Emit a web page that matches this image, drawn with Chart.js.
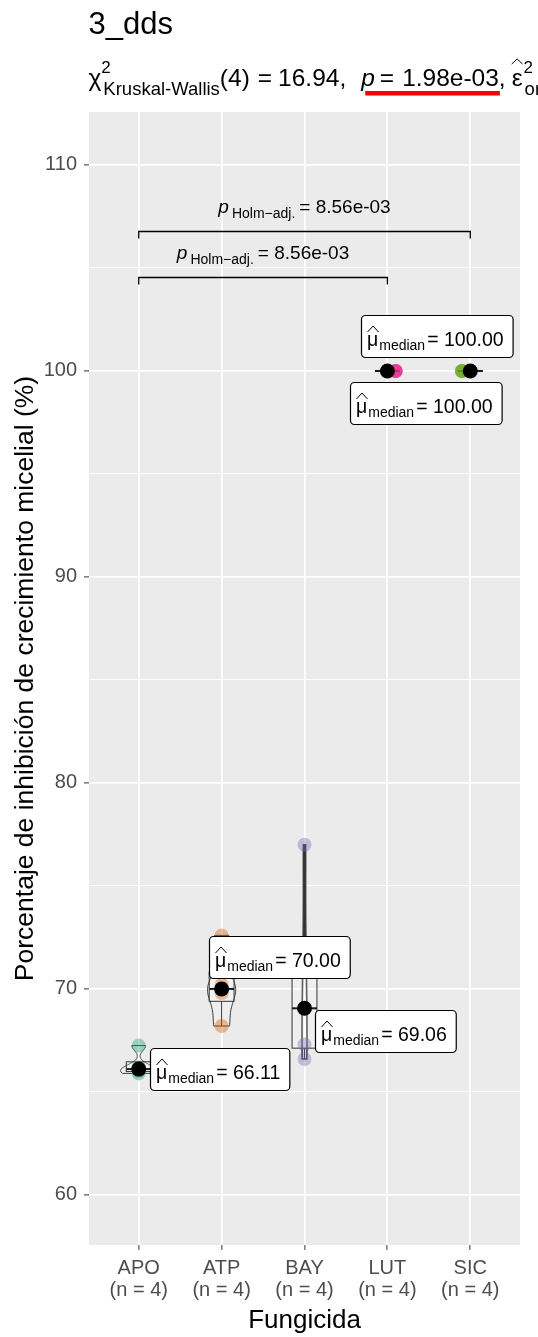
<!DOCTYPE html>
<html>
<head>
<meta charset="utf-8">
<script src="https://cdn.jsdelivr.net/npm/chart.js@4.4.1/dist/chart.umd.min.js"></script>
<style>
  html, body { margin: 0; padding: 0; background: #ffffff; }
  #wrap { width: 538px; height: 1337px; }
</style>
</head>
<body>
<div id="wrap"><canvas id="chart" width="538" height="1337"></canvas></div>
<script>
// ── Data ──────────────────────────────────────────────────

const categories = ['APO', 'ATP', 'BAY', 'LUT', 'SIC'];
const sampleSizes = [4, 4, 4, 4, 4];

const valuesAPO = [65.9, 66.02, 66.2, 67.25];
const valuesATP = [68.2, 69.8, 70.2, 72.6];
const valuesBAY = [66.6, 67.3, 70.82, 77.0];
const valuesLUT = [100, 100, 100, 100];
const valuesSIC = [100, 100, 100, 100];

// horizontal jitter of the points (category units)
const jitterAPO = [0, 0, 0, 0];
const jitterATP = [0, 0, 0, 0];
const jitterBAY = [0, 0, 0, 0];
const jitterLUT = [0.1, 0.1, 0.1, 0.1];
const jitterSIC = [-0.1, -0.1, -0.1, -0.1];

const yTicks = [60, 65, 70, 75, 80, 85, 90, 95, 100, 105, 110];
const yTickLabels = ['60', '', '70', '', '80', '', '90', '', '100', '', '110'];

// pairwise comparisons
const pairFrom = [1, 1];
const pairTo = [5, 4];
const pairY = [106.8, 104.55];
const pairP = ['8.56e-03', '8.56e-03'];

// Kruskal-Wallis subtitle
const kwDf = 4;
const kwStat = '16.94';
const kwP = '1.98e-03';

const groupValues = [valuesAPO, valuesATP, valuesBAY, valuesLUT, valuesSIC];
const groupJitter = [jitterAPO, jitterATP, jitterBAY, jitterLUT, jitterSIC];

// ── Style ─────────────────────────────────────────────────

const FONT = '"Liberation Sans", Arial, sans-serif';
const groupColors = ['27, 158, 119', '217, 95, 2', '117, 112, 179', '231, 41, 138', '102, 166, 30'];
const violinHalf = [0.22, 0.17, 0.03, 0, 0];
const violinLine = [1, 1, 1.6, 1, 1];
const boxHalf = 0.15;
// label box top-left, offset in px from the median point
const labelOffset = [[11, -21], [-13, -53], [10, 2], [-37, 11], [-109, -56]];

// ── Stats helpers ─────────────────────────────────────────

function quantile7(sorted, p) {
    const h = (sorted.length - 1) * p;
    const lo = Math.floor(h);
    const hi = Math.ceil(h);
    return sorted[lo] + (h - lo) * (sorted[hi] - sorted[lo]);
}

function sd(arr) {
    const m = arr.reduce((a, b) => a + b, 0) / arr.length;
    return Math.sqrt(arr.reduce((a, v) => a + (v - m) ** 2, 0) / (arr.length - 1));
}

function bwNrd0(arr) {
    const s = [...arr].sort((a, b) => a - b);
    const hi = sd(arr);
    let lo = Math.min(hi, (quantile7(s, 0.75) - quantile7(s, 0.25)) / 1.34);
    if (!lo) lo = hi || Math.abs(s[0]) || 1;
    return 0.9 * lo * Math.pow(arr.length, -0.2);
}

function density(arr, bw, y) {
    return arr.reduce((sum, v) => sum + Math.exp(-0.5 * ((y - v) / bw) ** 2), 0) /
        (arr.length * bw * Math.sqrt(2 * Math.PI));
}

function boxStats(arr) {
    const s = [...arr].sort((a, b) => a - b);
    const q1 = quantile7(s, 0.25), med = quantile7(s, 0.5), q3 = quantile7(s, 0.75);
    const iqr = q3 - q1;
    const inside = s.filter(v => v >= q1 - 1.5 * iqr && v <= q3 + 1.5 * iqr);
    return {
        q1, med, q3,
        lo: Math.min(inside[0], q1),
        hi: Math.max(inside[inside.length - 1], q3),
        min: s[0], max: s[s.length - 1]
    };
}

const stats = groupValues.map(boxStats);

// ── Plugins ───────────────────────────────────────────────

const panelPlugin = {
    id: 'panel',
    beforeDraw(chart) {
        const { ctx, chartArea: a } = chart;
        ctx.save();
        ctx.fillStyle = '#EBEBEB';
        ctx.fillRect(a.left, a.top, a.right - a.left, a.bottom - a.top);
        ctx.restore();
    }
};

const violinBoxPlugin = {
    id: 'violinBox',
    beforeDatasetsDraw(chart) {
        const { ctx, scales: { x, y } } = chart;
        ctx.save();
        groupValues.forEach((vals, i) => {
            const cx = i + 1;
            const st = stats[i];

            // violin (gaussian kde, trimmed to data range)
            if (st.max - st.min > 0 && violinHalf[i] > 0) {
                const bw = bwNrd0(vals);
                const n = 60;
                const pts = [];
                for (let k = 0; k <= n; k++) {
                    const yv = st.min + (st.max - st.min) * k / n;
                    pts.push([yv, density(vals, bw, yv)]);
                }
                const dmax = Math.max(...pts.map(p => p[1]));
                ctx.beginPath();
                pts.forEach(([yv, d], k) => {
                    const px = x.getPixelForValue(cx - violinHalf[i] * d / dmax);
                    const py = y.getPixelForValue(yv);
                    if (k === 0) ctx.moveTo(px, py); else ctx.lineTo(px, py);
                });
                for (let k = n; k >= 0; k--) {
                    const [yv, d] = pts[k];
                    ctx.lineTo(x.getPixelForValue(cx + violinHalf[i] * d / dmax), y.getPixelForValue(yv));
                }
                ctx.closePath();
                ctx.fillStyle = 'rgba(255,255,255,0.2)';
                ctx.fill();
                ctx.strokeStyle = '#3a3a3a';
                ctx.lineWidth = violinLine[i];
                ctx.stroke();
            }

            // whiskers
            const px = x.getPixelForValue(cx);
            ctx.strokeStyle = '#333333';
            ctx.lineWidth = 1;
            ctx.beginPath();
            ctx.moveTo(px, y.getPixelForValue(st.q3));
            ctx.lineTo(px, y.getPixelForValue(st.hi));
            ctx.moveTo(px, y.getPixelForValue(st.q1));
            ctx.lineTo(px, y.getPixelForValue(st.lo));
            ctx.stroke();

            // box
            const xl = x.getPixelForValue(cx - boxHalf);
            const xr = x.getPixelForValue(cx + boxHalf);
            const yt = y.getPixelForValue(st.q3);
            const yb = y.getPixelForValue(st.q1);
            ctx.fillStyle = 'rgba(255,255,255,0.2)';
            ctx.fillRect(xl, yt, xr - xl, yb - yt);
            ctx.strokeRect(xl, yt, xr - xl, yb - yt);

            // median line
            ctx.lineWidth = 2;
            ctx.strokeStyle = '#1a1a1a';
            ctx.beginPath();
            ctx.moveTo(xl, y.getPixelForValue(st.med));
            ctx.lineTo(xr, y.getPixelForValue(st.med));
            ctx.stroke();
        });
        ctx.restore();
    }
};

function drawMuLabel(ctx, left, top, valueText) {
    const h = 42;
    ctx.font = '19.5px ' + FONT;
    const muW = ctx.measureText('μ').width;
    const valW = ctx.measureText('= ' + valueText).width;
    ctx.font = '14px ' + FONT;
    const subW = ctx.measureText('median').width;
    const w = 6 + muW + 1 + subW + 2 + valW + 9;

    ctx.beginPath();
    ctx.roundRect(left + 0.5, top + 0.5, w, h, 4);
    ctx.fillStyle = '#ffffff';
    ctx.fill();
    ctx.strokeStyle = '#000000';
    ctx.lineWidth = 1.2;
    ctx.stroke();

    let xx = left + 6;
    ctx.fillStyle = '#000000';
    ctx.textBaseline = 'alphabetic';
    ctx.textAlign = 'left';
    ctx.font = '19.5px ' + FONT;
    ctx.fillText('μ', xx, top + 31);
    // hat
    ctx.lineWidth = 1;
    ctx.beginPath();
    ctx.moveTo(xx + 0.5, top + 17);
    ctx.lineTo(xx + 6, top + 11);
    ctx.lineTo(xx + 11.5, top + 17);
    ctx.stroke();
    xx += muW + 1;
    ctx.font = '14px ' + FONT;
    ctx.fillText('median', xx, top + 35);
    xx += subW + 2;
    ctx.font = '19.5px ' + FONT;
    ctx.fillText('= ' + valueText, xx, top + 31);
}

function drawPLabel(ctx, cx, baseline, pText) {
    ctx.font = 'italic 19px ' + FONT;
    const pW = ctx.measureText('p').width;
    ctx.font = '14px ' + FONT;
    const subW = ctx.measureText('Holm\u2212adj.').width;
    ctx.font = '19px ' + FONT;
    const mainW = ctx.measureText('= ' + pText).width;
    const total = pW + 3 + subW + 4 + mainW;
    let xx = cx - total / 2;
    ctx.fillStyle = '#000000';
    ctx.textAlign = 'left';
    ctx.textBaseline = 'alphabetic';
    ctx.font = 'italic 19px ' + FONT;
    ctx.fillText('p', xx, baseline);
    xx += pW + 3;
    ctx.font = '14px ' + FONT;
    ctx.fillText('Holm\u2212adj.', xx, baseline + 5);
    xx += subW + 4;
    ctx.font = '19px ' + FONT;
    ctx.fillText('= ' + pText, xx, baseline);
}

// draws a run of text pieces [text, font, gapAfter] and returns the x positions
function drawRun(ctx, x0, baseline, pieces) {
    let xx = x0;
    const marks = [];
    pieces.forEach(([text, font, gap]) => {
        ctx.font = font;
        marks.push(xx);
        ctx.fillText(text, xx, baseline);
        xx += ctx.measureText(text).width + gap;
    });
    marks.push(xx);
    return marks;
}

const annotationPlugin = {
    id: 'annotations',
    afterDatasetsDraw(chart) {
        const { ctx, scales: { x, y } } = chart;
        ctx.save();

        // pairwise brackets
        pairFrom.forEach((from, k) => {
            const x1 = x.getPixelForValue(from);
            const x2 = x.getPixelForValue(pairTo[k]);
            const yy = Math.round(y.getPixelForValue(pairY[k])) + 0.5;
            ctx.strokeStyle = '#000000';
            ctx.lineWidth = 1.3;
            ctx.beginPath();
            ctx.moveTo(x1, yy + 7);
            ctx.lineTo(x1, yy);
            ctx.lineTo(x2, yy);
            ctx.lineTo(x2, yy + 7);
            ctx.stroke();
            drawPLabel(ctx, (x1 + x2) / 2, yy - 19, pairP[k]);
        });

        // median labels
        stats.forEach((st, i) => {
            const px = x.getPixelForValue(i + 1);
            const py = y.getPixelForValue(st.med);
            drawMuLabel(ctx, Math.round(px + labelOffset[i][0]), Math.round(py + labelOffset[i][1]), st.med.toFixed(2));
        });
        ctx.restore();
    },
    afterDraw(chart) {
        const { ctx } = chart;
        ctx.save();
        ctx.fillStyle = '#000000';
        ctx.textAlign = 'left';
        ctx.textBaseline = 'alphabetic';

        // title
        ctx.font = '31px ' + FONT;
        ctx.fillText('3_dds', 88.5, 34);

        // subtitle
        const base = 86;
        const big = '24.5px ' + FONT;
        let xx = 88.5;
        ctx.font = big;
        ctx.fillText('χ', xx, base);
        xx += ctx.measureText('χ').width;
        ctx.font = '17px ' + FONT;
        ctx.fillText('2', xx, base - 13);
        ctx.font = '18.5px ' + FONT;
        ctx.fillText('Kruskal-Wallis', xx + 2, base + 9);
        xx += 2 + ctx.measureText('Kruskal-Wallis').width;

        const m = drawRun(ctx, xx, base, [
            ['(' + kwDf + ')', big, 8],
            ['=', big, 6],
            [kwStat + ',', big, 15],
            ['p', 'italic ' + big, 5],
            ['=', big, 8],
            [kwP, big, 0],
            [',', big, 6],
            ['ε', big, 0]
        ]);
        const pStart = m[3];
        const pEnd = m[6];
        const epsX = m[7];
        ctx.font = big;
        const epsW = ctx.measureText('ε').width;
        ctx.lineWidth = 1;
        ctx.strokeStyle = '#000000';
        ctx.beginPath();
        ctx.moveTo(epsX, base - 22);
        ctx.lineTo(epsX + epsW / 2, base - 27);
        ctx.lineTo(epsX + epsW, base - 22);
        ctx.stroke();
        ctx.font = '17px ' + FONT;
        ctx.fillText('2', epsX + epsW + 1, base - 13);
        ctx.font = '18.5px ' + FONT;
        ctx.fillText('ordinal', epsX + epsW + 2, base + 9);

        // red underline under the p value
        ctx.fillStyle = '#FF0000';
        ctx.fillRect(pStart + 4, base + 5, pEnd - pStart - 3, 4.5);
        ctx.restore();
    }
};

// ── Chart ─────────────────────────────────────────────────

const pointDatasets = groupValues.map((vals, i) => ({
    label: categories[i],
    data: vals.map((v, j) => ({ x: i + 1 + groupJitter[i][j], y: v })),
    backgroundColor: 'rgba(' + groupColors[i] + ', 0.4)',
    borderWidth: 0,
    pointRadius: 7,
    pointHoverRadius: 7,
    order: 1
}));

const medianDataset = {
    label: 'median',
    data: stats.map((st, i) => ({ x: i + 1, y: st.med })),
    backgroundColor: '#000000',
    borderWidth: 0,
    pointRadius: 7.5,
    pointHoverRadius: 7.5,
    order: 0
};

new Chart(document.getElementById('chart').getContext('2d'), {
    type: 'scatter',
    data: { datasets: [medianDataset, ...pointDatasets] },
    options: {
        responsive: false,
        animation: false,
        events: [],
        layout: { padding: { top: 112, right: 18, left: 0, bottom: 0 } },
        plugins: {
            legend: { display: false },
            tooltip: { enabled: false }
        },
        scales: {
            x: {
                type: 'linear',
                min: 0.4,
                max: 5.6,
                bounds: 'data',
                afterBuildTicks: (scale) => { scale.ticks = categories.map((c, i) => ({ value: i + 1 })); },
                afterFit: (scale) => { scale.height = 92; },
                ticks: {
                    autoSkip: false,
                    maxRotation: 0,
                    padding: 7,
                    color: '#4D4D4D',
                    font: { family: FONT, size: 20, lineHeight: 1.1 },
                    callback: (v, idx) => [categories[idx], '(n = ' + sampleSizes[idx] + ')']
                },
                grid: { color: '#FFFFFF', lineWidth: 1.8, tickColor: '#333333', tickLength: 5, tickWidth: 1 },
                border: { display: false },
                title: {
                    display: true,
                    text: 'Fungicida',
                    color: '#000000',
                    font: { family: FONT, size: 26 },
                    padding: { top: 0, bottom: 1 }
                }
            },
            y: {
                type: 'linear',
                min: 57.57,
                max: 112.57,
                bounds: 'data',
                afterBuildTicks: (scale) => { scale.ticks = yTicks.map(v => ({ value: v })); },
                afterFit: (scale) => { scale.width = 89; },
                ticks: {
                    autoSkip: false,
                    padding: 7,
                    color: '#4D4D4D',
                    font: { family: FONT, size: 20 },
                    callback: (v, idx) => yTickLabels[idx]
                },
                grid: {
                    color: '#FFFFFF',
                    lineWidth: (c) => (c.tick && c.tick.value % 10 === 0 ? 1.8 : 0.9),
                    tickColor: (c) => (c.tick && c.tick.value % 10 === 0 ? '#333333' : 'rgba(0,0,0,0)'),
                    tickLength: 5,
                    tickWidth: 1
                },
                border: { display: false },
                title: {
                    display: true,
                    text: 'Porcentaje de inhibición de crecimiento micelial (%)',
                    color: '#000000',
                    font: { family: FONT, size: 26.5 },
                    padding: { top: 10, bottom: 0 }
                }
            }
        }
    },
    plugins: [panelPlugin, violinBoxPlugin, annotationPlugin]
});
</script>
</body>
</html>
